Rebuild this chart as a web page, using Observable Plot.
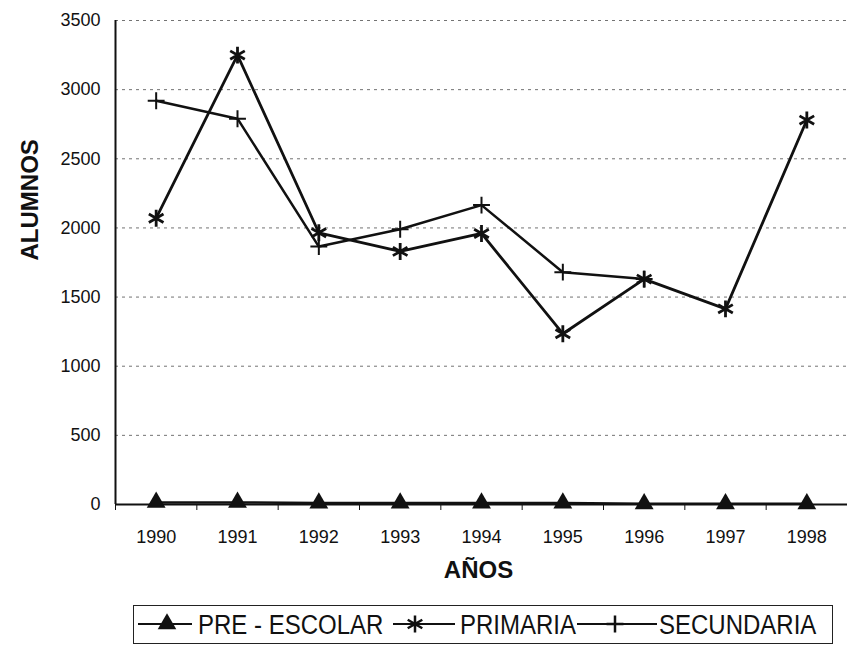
<!DOCTYPE html>
<html>
<head>
<meta charset="utf-8">
<script src="https://cdn.jsdelivr.net/npm/d3@7"></script>
<script src="https://cdn.jsdelivr.net/npm/@observablehq/plot@0.6"></script>
<style>
  body { margin: 0; background: white; font-family: "Liberation Sans", Arial, sans-serif; }
  #wrap { position: relative; width: 847px; }
  #legend { position: relative; width: 847px; height: 50px; }
  #box { position: absolute; left: 133px; top: 7px; width: 698px; height: 37px; border: 1px solid #222; }
  .lbl { position: absolute; top: 8px; font-size: 24px; line-height: 38px; transform: scaleY(1.15); transform-origin: 0 50%; white-space: nowrap; color: #111; }
  .mk { position: absolute; top: 7px; }
</style>
</head>
<body>
<div id="wrap"></div>
<div id="legend"><div id="box"></div></div>
<script>
const years = [1990, 1991, 1992, 1993, 1994, 1995, 1996, 1997, 1998];
const preEscolar = [15, 15, 10, 10, 10, 10, 5, 5, 5];
const primaria = [2070, 3250, 1965, 1830, 1960, 1235, 1630, 1415, 2780];
const secundaria = [2920, 2790, 1865, 1990, 2165, 1680, 1630];
const seriesNames = ["PRE - ESCOLAR", "PRIMARIA", "SECUNDARIA"];
const yTicks = [0, 500, 1000, 1500, 2000, 2500, 3000, 3500];
const halfYears = [1989.5, 1990.5, 1991.5, 1992.5, 1993.5, 1994.5, 1995.5, 1996.5, 1997.5, 1998.5];

const pre = preEscolar.map((v, i) => ({year: years[i], value: v}));
const prim = primaria.map((v, i) => ({year: years[i], value: v}));
const sec = secundaria.map((v, i) => ({year: years[i], value: v}));

const chart = Plot.plot({
  width: 847,
  height: 598,
  marginLeft: 115,
  marginRight: 0,
  marginTop: 20,
  marginBottom: 94,
  x: {domain: [1989.5, 1998.5]},
  y: {domain: [0, 3500]},
  style: {fontFamily: "'Liberation Sans', Arial, sans-serif", color: "#111", background: "white", overflow: "visible"},
  marks: [
    Plot.ruleY(yTicks.filter(d => d > 0), {stroke: "#444", strokeDasharray: "3,4", strokeOpacity: 0.75}),
    Plot.axisY(yTicks, {tickSize: 0, tickPadding: 15, fontSize: 18, label: null, tickFormat: d => String(d)}),
    Plot.axisX(years, {tickSize: 0, tickPadding: 26, fontSize: 18, label: null, tickFormat: d => String(d)}),
    Plot.axisX(halfYears, {tickSize: 6, tickFormat: () => "", label: null}),
    Plot.ruleX([1989.5], {strokeWidth: 2, stroke: "#111"}),
    Plot.ruleY([0], {strokeWidth: 2, stroke: "#111"}),
    Plot.line(pre, {x: "year", y: "value", stroke: "#111", strokeWidth: 2.5}),
    Plot.line(sec, {x: "year", y: "value", stroke: "#111", strokeWidth: 2.5}),
    Plot.line(prim, {x: "year", y: "value", stroke: "#111", strokeWidth: 2.8}),
    Plot.dot(pre, {x: "year", y: "value", symbol: "triangle", fill: "#111", r: 7}),
    Plot.dot(sec, {x: "year", y: "value", symbol: "plus", stroke: "#111", strokeWidth: 2, r: 5.5}),
    Plot.dot(prim, {x: "year", y: "value", symbol: "asterisk", stroke: "#111", strokeWidth: 2.8, r: 8}),
    Plot.text(["ALUMNOS"], {frameAnchor: "left", dx: -85, dy: -2, rotate: -90, fontSize: 24, fontWeight: "bold", fill: "#111"}),
    Plot.text(["AÑOS"], {frameAnchor: "bottom", dx: -3, dy: 73, fontSize: 24, fontWeight: "bold", fill: "#111"})
  ]
});
document.getElementById("wrap").appendChild(chart);

// Legend
const legend = document.getElementById("legend");
const symbols = [d3.symbolTriangle, d3.symbolAsterisk, d3.symbolPlus];
const sizes = [150, 200, 95];
const fills = [true, false, false];
const mkPos = [[138, 192, 167], [393, 455, 415], [577, 657, 615]];
const lblPos = [198, 460, 659];
seriesNames.forEach((name, i) => {
  const [x0, x1, xc] = mkPos[i];
  const svg = d3.create("svg").attr("class", "mk").attr("width", x1 - x0).attr("height", 38)
    .style("left", x0 + "px");
  svg.append("line").attr("x1", 0).attr("x2", x1 - x0).attr("y1", 19).attr("y2", 19)
    .attr("stroke", "#111").attr("stroke-width", 2);
  svg.append("path").attr("d", d3.symbol(symbols[i], sizes[i])())
    .attr("transform", `translate(${xc - x0},19)`)
    .attr("fill", fills[i] ? "#111" : "none")
    .attr("stroke", "#111").attr("stroke-width", fills[i] ? 0 : 2.5);
  legend.appendChild(svg.node());
  const t = document.createElement("div");
  t.className = "lbl";
  t.style.left = lblPos[i] + "px";
  t.textContent = name;
  legend.appendChild(t);
});
</script>
</body>
</html>
